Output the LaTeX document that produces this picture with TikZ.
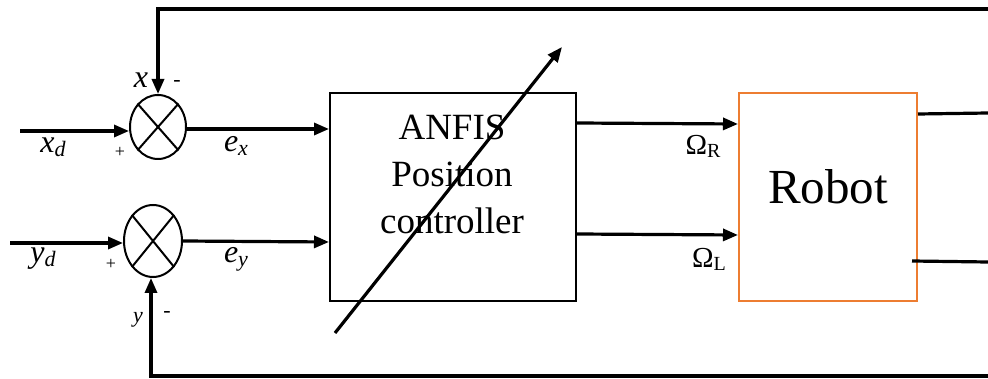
\documentclass[tikz,border=0pt]{standalone}
\usepackage{fontspec}
\setmainfont{Liberation Serif}
\usetikzlibrary{arrows.meta,shapes.geometric,calc}
\definecolor{robotorange}{RGB}{237,125,49}
\tikzset{
  conn/.style={line width=3.2pt},
  arr/.style={conn,-{Triangle[length=15pt,width=12pt]}},
  sumj/.style={draw,ellipse,line width=2pt,inner sep=0pt},
  blk/.style={draw,line width=2pt,anchor=north west,inner sep=0pt},
  lbl/.style={inner sep=0pt},
}
\newcommand{\itlab}[2]{{\fontsize{32}{32}\selectfont\itshape #1}\raisebox{-4pt}{\fontsize{22}{22}\selectfont\itshape #2}}
\newcommand{\omlab}[1]{{\fontsize{29}{29}\selectfont Ω}\raisebox{-3pt}{\fontsize{20}{20}\selectfont #1}}
\begin{document}
\begin{tikzpicture}[x=1pt,y=-1pt]
\useasboundingbox (0,0) rectangle (988,379);
% summing junctions
\node[sumj,minimum width=56pt,minimum height=64pt] (sj1) at (158,127) {};
\draw[line width=2pt] (sj1.north east) -- (sj1.south west) (sj1.north west) -- (sj1.south east);
\node[sumj,minimum width=58pt,minimum height=72pt] (sj2) at (153,241) {};
\draw[line width=2pt] (sj2.north east) -- (sj2.south west) (sj2.north west) -- (sj2.south east);
% blocks
\node[blk,minimum width=246pt,minimum height=208pt] (anfis) at (329,92) {};
\node[lbl,align=center,font=\fontsize{37}{47}\selectfont] (anfistxt) at (452,174) {ANFIS\\Position\\controller};
\node[blk,draw=robotorange,minimum width=178pt,minimum height=208pt] (robot) at (738,92) {};
\node[lbl,font=\fontsize{49}{49}\selectfont] (robottxt) at (828,187) {Robot};
% coordinates
\coordinate (xin) at (20,131);
\coordinate (yin) at (10,243);
\coordinate (fbtop) at (988,9);
\coordinate (fbbot) at (988,376);
\coordinate (outA) at (988,113);
\coordinate (outB0) at (912,261);
\coordinate (outB) at (988,262);
\coordinate (dA) at (335,333);
\coordinate (dB) at (562,47);
% connectors
\draw[arr] (xin) -- (xin -| sj1.west);
\draw[arr] (yin) -- (yin -| sj2.west);
\draw[arr] (sj1.east |- 0,129) -- (anfis.west |- 0,129);
\draw[arr] (sj2.east) -- (anfis.west |- 0,242);
\draw[arr] (fbtop) -| (sj1.north);
\draw[arr] (fbbot) -| ([xshift=-2pt]sj2.south);
\draw[arr] (anfis.east |- 0,123) -- (robot.west |- 0,124);
\draw[arr] (anfis.east |- 0,234) -- (robot.west |- 0,235);
\draw[conn] (robot.east |- 0,114) -- (outA);
\draw[conn] (outB0) -- (outB);
\draw[arr] (dA) -- (dB);
% labels
\node[lbl] (lxd) at (53,147) {\itlab{x}{d}};
\node[lbl] (lex) at (236,146) {\itlab{e}{x}};
\node[lbl] (lyd) at (43,259) {\itlab{y}{d}};
\node[lbl] (ley) at (236,259) {\itlab{e}{y}};
\node[lbl,font=\fontsize{32}{32}\selectfont\itshape] (lx) at (141,80) {x};
\node[lbl,font=\fontsize{22}{22}\selectfont\itshape] (ly) at (138,320) {y};
\node[lbl,font=\fontsize{22}{22}\selectfont] (mx) at (177,84) {-};
\node[lbl,font=\fontsize{22}{22}\selectfont] (my) at (167,314) {-};
\node[lbl,font=\fontsize{18}{18}\selectfont] (px) at (120,152) {+};
\node[lbl,font=\fontsize{18}{18}\selectfont] (py) at (111,264) {+};
\node[lbl] (lor) at (703,146) {\omlab{R}};
\node[lbl] (lol) at (709,259) {\omlab{L}};
\end{tikzpicture}
\end{document}
